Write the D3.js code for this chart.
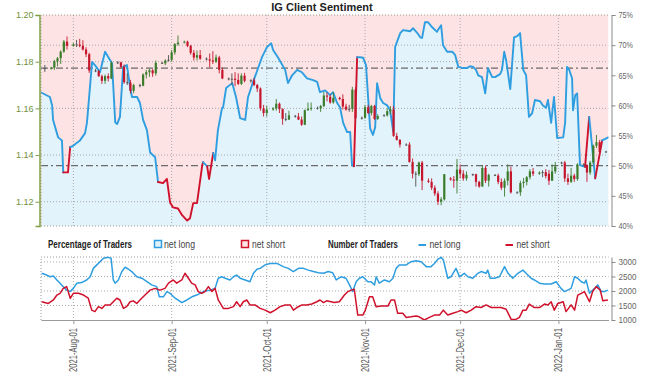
<!DOCTYPE html>
<html>
<head>
<meta charset="utf-8">
<script src="https://cdn.jsdelivr.net/npm/d3@7"></script>
<style>
body { margin: 0; background: #fff; }
svg { display: block; font-family: "Liberation Sans", Arial, sans-serif; }
</style>
</head>
<body>
<div id="chart"></div>
<script>
// EUR/USD daily candles: date, open, high, low, close
const candles = [
  ["2021-07-23",1.1772,1.1786,1.1756,1.1770],["2021-07-25",1.1770,1.1778,1.1766,1.1774],
  ["2021-07-26",1.1774,1.1808,1.1765,1.1802],["2021-07-27",1.1802,1.1820,1.1780,1.1815],
  ["2021-07-28",1.1815,1.1848,1.1790,1.1843],["2021-07-29",1.1843,1.1893,1.1838,1.1886],
  ["2021-07-30",1.1886,1.1908,1.1852,1.1868],["2021-08-01",1.1868,1.1880,1.1864,1.1874],
  ["2021-08-02",1.1874,1.1893,1.1863,1.1873],["2021-08-03",1.1873,1.1898,1.1862,1.1868],
  ["2021-08-04",1.1868,1.1892,1.1848,1.1852],["2021-08-05",1.1852,1.1862,1.1820,1.1832],
  ["2021-08-06",1.1832,1.1838,1.1752,1.1762],["2021-08-08",1.1762,1.1770,1.1755,1.1760],
  ["2021-08-09",1.1760,1.1765,1.1735,1.1738],["2021-08-10",1.1738,1.1745,1.1705,1.1718],
  ["2021-08-11",1.1718,1.1745,1.1705,1.1738],["2021-08-12",1.1738,1.1750,1.1715,1.1728],
  ["2021-08-13",1.1728,1.1802,1.1725,1.1795],["2021-08-15",1.1795,1.1802,1.1790,1.1797],
  ["2021-08-16",1.1797,1.1800,1.1772,1.1778],["2021-08-17",1.1778,1.1788,1.1705,1.1712],
  ["2021-08-18",1.1712,1.1750,1.1700,1.1710],["2021-08-19",1.1710,1.1722,1.1664,1.1675],
  ["2021-08-20",1.1675,1.1705,1.1665,1.1700],["2021-08-22",1.1700,1.1705,1.1690,1.1697],
  ["2021-08-23",1.1697,1.1750,1.1695,1.1745],["2021-08-24",1.1745,1.1765,1.1728,1.1755],
  ["2021-08-25",1.1755,1.1770,1.1735,1.1763],["2021-08-26",1.1763,1.1768,1.1735,1.1750],
  ["2021-08-27",1.1750,1.1805,1.1740,1.1795],["2021-08-29",1.1795,1.1800,1.1790,1.1793],
  ["2021-08-30",1.1793,1.1810,1.1785,1.1805],["2021-08-31",1.1805,1.1828,1.1800,1.1808],
  ["2021-09-01",1.1808,1.1850,1.1800,1.1840],["2021-09-02",1.1840,1.1880,1.1830,1.1875],
  ["2021-09-03",1.1875,1.1912,1.1868,1.1882],["2021-09-05",1.1882,1.1890,1.1878,1.1886],
  ["2021-09-06",1.1886,1.1890,1.1862,1.1868],["2021-09-07",1.1868,1.1872,1.1830,1.1838],
  ["2021-09-08",1.1838,1.1850,1.1805,1.1818],["2021-09-09",1.1818,1.1848,1.1805,1.1828],
  ["2021-09-10",1.1828,1.1850,1.1808,1.1813],["2021-09-12",1.1813,1.1818,1.1805,1.1810],
  ["2021-09-13",1.1810,1.1835,1.1775,1.1805],["2021-09-14",1.1805,1.1845,1.1790,1.1800],
  ["2021-09-15",1.1800,1.1830,1.1795,1.1818],["2021-09-16",1.1818,1.1825,1.1750,1.1765],
  ["2021-09-17",1.1765,1.1775,1.1725,1.1728],["2021-09-19",1.1728,1.1732,1.1720,1.1725],
  ["2021-09-20",1.1725,1.1750,1.1700,1.1727],["2021-09-21",1.1727,1.1755,1.1695,1.1722],
  ["2021-09-22",1.1722,1.1750,1.1700,1.1705],["2021-09-23",1.1705,1.1750,1.1700,1.1740],
  ["2021-09-24",1.1740,1.1752,1.1712,1.1718],["2021-09-26",1.1718,1.1725,1.1710,1.1720],
  ["2021-09-27",1.1720,1.1730,1.1695,1.1700],["2021-09-28",1.1700,1.1705,1.1670,1.1685],
  ["2021-09-29",1.1685,1.1690,1.1590,1.1600],["2021-09-30",1.1600,1.1615,1.1565,1.1580],
  ["2021-10-01",1.1580,1.1610,1.1565,1.1595],["2021-10-03",1.1595,1.1605,1.1590,1.1600],
  ["2021-10-04",1.1600,1.1640,1.1590,1.1620],["2021-10-05",1.1620,1.1625,1.1580,1.1597],
  ["2021-10-06",1.1597,1.1600,1.1530,1.1555],["2021-10-07",1.1555,1.1580,1.1545,1.1552],
  ["2021-10-08",1.1552,1.1590,1.1550,1.1570],["2021-10-10",1.1568,1.1572,1.1560,1.1565],
  ["2021-10-11",1.1565,1.1580,1.1550,1.1552],["2021-10-12",1.1552,1.1565,1.1525,1.1530],
  ["2021-10-13",1.1530,1.1595,1.1528,1.1592],["2021-10-14",1.1592,1.1625,1.1590,1.1598],
  ["2021-10-15",1.1598,1.1625,1.1590,1.1602],["2021-10-17",1.1602,1.1608,1.1595,1.1600],
  ["2021-10-18",1.1600,1.1615,1.1585,1.1610],["2021-10-19",1.1610,1.1670,1.1605,1.1655],
  ["2021-10-20",1.1655,1.1668,1.1630,1.1650],["2021-10-21",1.1650,1.1660,1.1620,1.1625],
  ["2021-10-22",1.1625,1.1670,1.1620,1.1645],["2021-10-24",1.1645,1.1650,1.1635,1.1640],
  ["2021-10-25",1.1640,1.1660,1.1595,1.1608],["2021-10-26",1.1608,1.1620,1.1590,1.1595],
  ["2021-10-27",1.1595,1.1615,1.1585,1.1598],["2021-10-28",1.1598,1.1692,1.1585,1.1680],
  ["2021-10-29",1.1680,1.1690,1.1535,1.1558],["2021-10-31",1.1558,1.1565,1.1552,1.1560],
  ["2021-11-01",1.1560,1.1615,1.1555,1.1605],["2021-11-02",1.1605,1.1615,1.1575,1.1580],
  ["2021-11-03",1.1580,1.1615,1.1570,1.1610],["2021-11-04",1.1610,1.1615,1.1550,1.1555],
  ["2021-11-05",1.1555,1.1575,1.1550,1.1567],["2021-11-07",1.1567,1.1575,1.1565,1.1570],
  ["2021-11-08",1.1570,1.1600,1.1565,1.1588],["2021-11-09",1.1588,1.1610,1.1575,1.1595],
  ["2021-11-10",1.1595,1.1610,1.1478,1.1482],["2021-11-11",1.1482,1.1495,1.1462,1.1465],
  ["2021-11-12",1.1465,1.1468,1.1432,1.1445],["2021-11-14",1.1445,1.1450,1.1440,1.1445],
  ["2021-11-15",1.1445,1.1455,1.1368,1.1370],["2021-11-16",1.1370,1.1385,1.1300,1.1320],
  ["2021-11-17",1.1320,1.1330,1.1265,1.1318],["2021-11-18",1.1318,1.1372,1.1310,1.1368],
  ["2021-11-19",1.1368,1.1375,1.1250,1.1290],["2021-11-21",1.1290,1.1300,1.1280,1.1285],
  ["2021-11-22",1.1285,1.1300,1.1250,1.1260],["2021-11-23",1.1260,1.1270,1.1225,1.1235],
  ["2021-11-24",1.1235,1.1245,1.1186,1.1200],["2021-11-25",1.1200,1.1220,1.1185,1.1210],
  ["2021-11-26",1.1210,1.1318,1.1205,1.1318],["2021-11-28",1.1300,1.1306,1.1290,1.1295],
  ["2021-11-29",1.1295,1.1310,1.1260,1.1290],["2021-11-30",1.1290,1.1383,1.1235,1.1338],
  ["2021-12-01",1.1338,1.1360,1.1300,1.1320],["2021-12-02",1.1320,1.1335,1.1290,1.1300],
  ["2021-12-03",1.1300,1.1330,1.1290,1.1315],["2021-12-05",1.1315,1.1320,1.1310,1.1318],
  ["2021-12-06",1.1318,1.1320,1.1265,1.1285],["2021-12-07",1.1285,1.1290,1.1260,1.1265],
  ["2021-12-08",1.1265,1.1355,1.1265,1.1345],["2021-12-09",1.1345,1.1355,1.1280,1.1290],
  ["2021-12-10",1.1290,1.1320,1.1265,1.1315],["2021-12-12",1.1315,1.1318,1.1310,1.1312],
  ["2021-12-13",1.1312,1.1320,1.1275,1.1285],["2021-12-14",1.1285,1.1300,1.1250,1.1260],
  ["2021-12-15",1.1260,1.1300,1.1222,1.1290],["2021-12-16",1.1290,1.1360,1.1270,1.1330],
  ["2021-12-17",1.1330,1.1350,1.1235,1.1240],["2021-12-19",1.1240,1.1245,1.1235,1.1240],
  ["2021-12-20",1.1240,1.1290,1.1225,1.1280],["2021-12-21",1.1280,1.1302,1.1260,1.1285],
  ["2021-12-22",1.1285,1.1310,1.1270,1.1305],["2021-12-23",1.1305,1.1340,1.1295,1.1330],
  ["2021-12-24",1.1330,1.1345,1.1310,1.1320],["2021-12-26",1.1320,1.1330,1.1315,1.1325],
  ["2021-12-27",1.1325,1.1335,1.1305,1.1327],["2021-12-28",1.1327,1.1340,1.1300,1.1310],
  ["2021-12-29",1.1320,1.1336,1.1272,1.1290],["2021-12-30",1.1290,1.1360,1.1290,1.1330],
  ["2021-12-31",1.1330,1.1370,1.1320,1.1350],["2022-01-02",1.1365,1.1372,1.1360,1.1368],
  ["2022-01-03",1.1368,1.1375,1.1285,1.1300],["2022-01-04",1.1300,1.1320,1.1272,1.1285],
  ["2022-01-05",1.1285,1.1345,1.1280,1.1312],["2022-01-06",1.1312,1.1320,1.1285,1.1297],
  ["2022-01-07",1.1297,1.1365,1.1290,1.1360],["2022-01-09",1.1360,1.1365,1.1355,1.1358],
  ["2022-01-10",1.1358,1.1360,1.1285,1.1325],["2022-01-11",1.1325,1.1375,1.1315,1.1368],
  ["2022-01-12",1.1368,1.1445,1.1360,1.1440],["2022-01-13",1.1440,1.1486,1.1430,1.1455],
  ["2022-01-14",1.1455,1.1465,1.1400,1.1413],["2022-01-16",1.1413,1.1418,1.1410,1.1415]
];

// sentiment samples: [days since 2021-07-22, value]
const netLongPct = [
  [0.0,62.1],[2.6,61.4],[3.3,60.0],[3.6,57.6],[5.2,54.7],[6.4,54.2],[6.8,48.9],[8.3,48.9],
  [9.0,53.1],[9.6,53.2],[12.1,54.2],[13.7,55.4],[14.3,57.2],[15.9,67.2],[16.8,66.7],[18.4,65.5],
  [20.0,68.9],[21.6,67.5],[22.2,67.0],[23.2,57.2],[23.8,56.9],[24.7,58.1],[25.7,66.4],[26.9,66.7],
  [27.9,63.0],[28.5,61.4],[30.1,61.4],[31.0,60.4],[32.0,57.6],[33.2,55.9],[34.2,52.2],[35.8,51.4],
  [36.7,47.3],[38.3,47.1],[39.5,47.8],[40.5,43.9],[41.4,43.1],[43.0,42.9],[44.3,41.8],[45.9,40.9],
  [46.8,41.3],[47.8,43.8],[49.0,43.8],[50.6,49.9],[50.9,50.6],[52.2,49.9],[52.8,47.8],[54.1,52.1],
  [54.7,50.9],[55.6,55.9],[56.9,59.6],[57.2,59.6],[58.2,62.9],[60.1,63.7],[61.3,61.4],[62.6,57.9],
  [64.2,57.6],[65.1,61.4],[66.7,63.9],[69.5,68.0],[71.1,69.7],[72.4,70.3],[73.0,69.2],[74.6,67.9],
  [76.8,65.9],[77.7,63.7],[79.0,65.0],[80.6,65.9],[82.1,65.5],[83.7,64.5],[85.6,64.2],[86.9,63.9],
  [87.8,62.2],[89.4,62.5],[91.0,61.7],[91.9,62.2],[93.2,60.4],[94.1,59.7],[95.1,57.1],[96.3,55.6],
  [97.3,55.6],[97.9,50.1],[98.5,49.9],[99.5,68.0],[100.4,68.0],[101.4,67.9],[102.3,66.7],[103.6,56.2],
  [104.5,55.1],[105.2,56.4],[105.8,63.7],[106.8,61.2],[107.7,60.4],[109.0,60.0],[109.9,59.2],[110.9,55.6],
  [111.5,69.7],[113.1,72.0],[114.0,72.5],[116.2,72.3],[117.2,72.8],[118.5,72.0],[119.4,71.3],[120.0,71.2],
  [120.9,73.8],[121.9,73.8],[123.1,73.0],[124.7,72.2],[125.0,72.5],[126.0,73.3],[126.6,70.0],[127.9,68.9],
  [129.5,68.9],[130.4,68.4],[131.4,66.4],[132.9,66.2],[134.2,66.2],[135.1,66.5],[136.1,66.4],[137.0,65.9],
  [137.7,65.0],[138.9,64.7],[139.9,62.0],[140.8,66.2],[142.1,64.7],[143.0,64.7],[144.6,65.2],[145.2,65.9],
  [145.9,68.9],[146.5,67.5],[147.8,62.7],[149.0,71.3],[150.0,71.5],[150.9,72.0],[151.9,65.9],[152.8,65.0],
  [153.7,58.1],[154.7,58.7],[155.6,60.9],[157.2,60.7],[158.1,60.0],[159.1,59.6],[159.7,60.9],[160.7,57.1],
  [161.6,61.4],[162.6,54.6],[164.5,54.7],[165.1,57.1],[165.7,66.4],[166.4,65.9],[167.3,64.5],[167.6,59.2],
  [168.3,61.7],[168.9,62.0],[169.8,50.1],[171.4,49.8],[172.7,58.1],[174.6,47.9],[176.8,54.2],[178.7,54.7]
];

const netLongCount = [
  [0.0,2610],[1.6,2550],[2.6,2490],[3.7,2520],[4.8,2380],[5.8,2270],[6.8,2150],[7.9,2030],
  [9.0,1980],[10.0,2090],[11.1,2270],[12.6,2290],[14.2,2380],[15.3,2490],[16.3,2780],[17.4,2900],
  [18.4,3010],[19.5,3130],[21.0,3160],[21.9,3130],[22.6,2380],[23.2,2270],[24.2,2380],[25.3,2670],
  [26.3,2820],[27.4,2750],[28.4,2670],[30.0,2490],[31.6,2440],[33.2,2320],[34.7,2210],[36.3,2150],
  [37.1,1800],[38.4,1800],[39.5,1980],[40.5,1920],[42.1,1750],[44.2,1600],[45.8,1690],[47.4,1800],
  [48.9,1860],[51.0,1980],[53.1,2030],[54.7,2090],[55.7,2440],[56.8,2490],[57.9,2440],[59.4,2380],
  [60.5,2490],[61.5,2550],[62.6,2440],[64.2,2380],[65.7,2320],[66.8,2610],[67.9,2750],[68.9,2780],
  [70.5,2900],[72.1,2950],[74.2,2950],[76.2,2840],[77.8,2780],[79.4,2670],[81.0,2780],[82.6,2780],
  [84.1,2720],[85.7,2670],[87.3,2630],[88.9,2610],[90.4,2670],[91.8,2630],[92.9,2380],[94.4,2490],
  [96.0,2440],[97.1,2210],[98.1,1980],[99.2,2320],[100.2,2440],[101.3,2490],[102.9,2320],[103.9,2320],
  [105.0,2210],[105.5,2490],[106.5,2270],[108.1,2380],[109.7,2320],[110.8,2440],[111.8,2780],[112.8,2900],
  [115.0,2900],[116.5,3010],[118.1,3040],[119.7,3010],[121.3,2840],[122.8,2840],[123.9,2950],[124.9,3090],
  [126.0,3160],[126.7,3070],[128.1,2440],[129.1,2490],[130.7,2780],[131.8,2490],[133.3,2610],[134.4,2490],
  [136.0,2440],[137.6,2610],[138.6,2670],[140.2,2610],[140.7,2720],[141.5,2440],[142.8,2440],[144.4,2490],
  [146.0,2840],[147.1,2610],[148.6,2440],[150.2,2610],[151.8,2720],[152.8,2610],[154.4,2440],[155.4,2380],
  [157.0,2270],[158.6,2240],[160.7,2240],[162.3,2320],[163.8,2090],[164.9,1980],[167.0,2090],[168.1,2490],
  [169.1,2440],[170.2,2320],[171.2,2270],[171.7,2380],[172.8,1920],[174.4,2090],[175.4,2210],[176.5,1980],
  [177.5,1980],[178.6,2030]
];

const netShortCount = [
  [0.0,1630],[2.1,1570],[3.7,1690],[4.8,1860],[5.8,1920],[6.8,2090],[7.9,2150],[9.0,1750],
  [10.0,1920],[11.6,1920],[13.2,1860],[14.7,1750],[15.8,1340],[16.8,1290],[17.9,1460],[19.0,1400],
  [20.0,1520],[21.6,1520],[22.6,1630],[23.7,1750],[24.7,1690],[25.8,1400],[26.8,1460],[27.9,1630],
  [28.9,1660],[30.0,1570],[31.0,1690],[32.6,1860],[34.2,2030],[35.8,2090],[37.3,2030],[38.9,2090],
  [40.0,2270],[41.5,2380],[42.6,2270],[44.2,2380],[45.2,2610],[46.3,2440],[47.3,2270],[48.4,2210],
  [49.4,1980],[50.5,1920],[51.5,1980],[52.6,2150],[53.7,1980],[54.7,2090],[55.7,1690],[57.3,1400],
  [58.9,1400],[60.5,1460],[61.5,1630],[62.6,1460],[63.6,1630],[64.7,1690],[65.7,1520],[67.3,1520],
  [68.9,1400],[70.5,1340],[72.1,1250],[73.6,1340],[75.2,1460],[76.8,1520],[78.4,1520],[79.4,1340],
  [80.5,1430],[82.1,1520],[83.6,1520],[85.2,1550],[86.8,1630],[87.8,1690],[88.9,1600],[89.9,1660],
  [92.3,1600],[93.9,1630],[95.5,1860],[96.6,1980],[97.6,2030],[98.6,2060],[99.7,1170],[101.3,1170],
  [102.1,1340],[103.4,1800],[104.4,1800],[105.5,1460],[107.1,1480],[109.2,1480],[110.2,1690],[111.3,1690],
  [112.3,1230],[113.9,1230],[115.0,1090],[116.5,1110],[118.1,1140],[119.1,1110],[120.7,1000],[122.3,1090],
  [123.9,1170],[125.5,1170],[126.7,1340],[128.1,1170],[129.7,1230],[131.3,1290],[132.3,1340],[133.9,1250],
  [135.5,1340],[137.0,1460],[138.6,1430],[140.2,1520],[141.8,1430],[143.3,1430],[144.9,1430],[146.5,1370],
  [148.1,1020],[149.6,1020],[150.7,1090],[151.8,1340],[152.8,1340],[153.8,1550],[155.4,1430],[157.0,1430],
  [158.6,1550],[159.7,1520],[160.7,1630],[161.7,1340],[162.8,1570],[164.5,1630],[165.4,1290],[167.0,1520],
  [168.1,1340],[169.1,1860],[170.2,1920],[171.2,1980],[172.8,1630],[173.8,1980],[174.9,2150],[176.2,2030],
  [177.0,1660],[178.6,1690]
];

const monthTicks = ["2021-08-01","2021-09-01","2021-10-01","2021-11-01","2021-12-01","2022-01-01"];
const priceTicks = [1.12, 1.14, 1.16, 1.18, 1.20];
const pctTicks = [40, 45, 50, 55, 60, 65, 70, 75];
const countTicks = [1000, 1500, 2000, 2500, 3000];
const priceRef = 1.1772;   // dash-dot reference level

const W = 656, H = 388;
const parse = d3.timeParse("%Y-%m-%d");
const t0 = new Date(2021, 6, 22);
const dayToDate = d => new Date(t0.getTime() + d * 864e5);

const svg = d3.select("#chart").append("svg").attr("width", W).attr("height", H);

const x = d3.scaleTime()
  .domain([new Date(2021, 6, 21, 19), new Date(2022, 0, 16, 19)])
  .range([41, 608.5]);
const top1 = 15, bot1 = 226, top2 = 257, bot2 = 320;
const yPrice = d3.scaleLinear().domain([1.1096, 1.20]).range([bot1, top1]);
const yPct = d3.scaleLinear().domain([40, 75]).range([bot1, top1]);
const yCount = d3.scaleLinear().domain([1000, 3172]).range([bot2, top2]);

const blue = "#2e9ee0", red = "#d0112b";
const dotted = "1,2";

svg.append("defs").append("clipPath").attr("id", "clipTop")
  .append("rect").attr("x", 41).attr("y", top1).attr("width", 608.5 - 41).attr("height", bot1 - top1);

// ---- top panel background & sentiment area
const topG = svg.append("g").attr("clip-path", "url(#clipTop)");
topG.append("rect").attr("x", 41).attr("y", top1).attr("width", 567.5).attr("height", bot1 - top1)
  .attr("fill", "#fde3e4");
topG.append("path")
  .datum(netLongPct)
  .attr("fill", "#e3f3fc")
  .attr("d", d3.area().x(d => x(dayToDate(d[0]))).y0(bot1).y1(d => yPct(d[1])));

// grid
const monthDates = monthTicks.map(parse);
topG.selectAll(".vg").data(monthDates).join("line")
  .attr("x1", d => x(d)).attr("x2", d => x(d)).attr("y1", top1).attr("y2", bot1)
  .attr("stroke", "#a9a9a9").attr("stroke-dasharray", dotted);
topG.selectAll(".hg").data([1.12, 1.14, 1.16, 1.18]).join("line")
  .attr("x1", 41).attr("x2", 608.5).attr("y1", d => yPrice(d)).attr("y2", d => yPrice(d))
  .attr("stroke", "#a9a9a9").attr("stroke-dasharray", dotted);
topG.append("line").attr("x1", 41).attr("x2", 608.5).attr("y1", yPct(70)).attr("y2", yPct(70))
  .attr("stroke", "#a9a9a9").attr("stroke-dasharray", dotted);

// dash-dot reference lines
[yPrice(priceRef), yPct(50)].forEach(yy => {
  topG.append("line").attr("x1", 41).attr("x2", 608.5).attr("y1", yy).attr("y2", yy)
    .attr("stroke", "#6b6b6b").attr("stroke-width", 1.2).attr("stroke-dasharray", "7,3,2,3");
});

// sentiment line, red where net long below 50%
function drawRuns(g, pts, xf, yf, colorOf, width) {
  let run = [pts[0]], col = colorOf(pts[0]);
  const flush = () => {
    g.append("path").datum(run).attr("fill", "none").attr("stroke", col)
      .attr("stroke-width", width).attr("stroke-linejoin", "round").attr("stroke-linecap", "round")
      .attr("d", d3.line().x(xf).y(yf));
  };
  for (let i = 1; i < pts.length; i++) {
    run.push(pts[i]);
    const c = colorOf(pts[i]);
    if (c !== col || i === pts.length - 1) {
      flush();
      run = [pts[i]];
      col = c;
    }
  }
}
drawRuns(topG, netLongPct, d => x(dayToDate(d[0])), d => yPct(d[1]), d => d[1] < 50 ? red : blue, 1.9);

// candles
const cg = topG.append("g");
candles.forEach(c => {
  const [ds, o, h, l, cl] = c;
  const cx = x(parse(ds));
  const col = Math.abs(cl - o) < 0.0003 ? "#505050" : (cl > o ? "#3c7d2c" : "#c5162c");
  cg.append("line").attr("x1", cx).attr("x2", cx).attr("y1", yPrice(h)).attr("y2", yPrice(l))
    .attr("stroke", col).attr("stroke-width", 0.9);
  const y0 = yPrice(Math.max(o, cl)), y1 = yPrice(Math.min(o, cl));
  cg.append("rect").attr("x", cx - 1.1).attr("width", 2.2)
    .attr("y", y0).attr("height", Math.max(0.9, y1 - y0)).attr("fill", col);
});

// top panel border (dotted)
svg.append("path").attr("d", `M41,${bot1}V${top1}H608.5M41,${bot1}H608.5`)
  .attr("fill", "none").attr("stroke", "#9a9a8a").attr("stroke-dasharray", dotted);

// axes top panel
const leftAxis = svg.append("g").attr("transform", "translate(39.5,0)")
  .call(d3.axisLeft(yPrice).tickValues(priceTicks).tickFormat(d3.format(".2f")).tickSize(4).tickSizeOuter(4));
leftAxis.select(".domain").attr("stroke", "#7f9f45").attr("stroke-width", 1.5);
leftAxis.selectAll(".tick line").attr("stroke", "#7f9f45");
leftAxis.selectAll("text").attr("fill", "#6e8f3c").style("font-size", "9px").attr("x", -6);

const rightAxis = svg.append("g").attr("transform", "translate(611.5,0)")
  .call(d3.axisRight(yPct).tickValues(pctTicks).tickFormat(d => d + "%").tickSize(4).tickSizeOuter(4));
rightAxis.select(".domain").attr("stroke", "#8a8a8a");
rightAxis.selectAll(".tick line").attr("stroke", "#8a8a8a");
rightAxis.selectAll("text").attr("fill", "#666").style("font-size", "8.5px")
  .attr("textLength", 14.5).attr("lengthAdjust", "spacingAndGlyphs");

// title
svg.append("text").attr("x", 322).attr("y", 11).attr("text-anchor", "middle")
  .style("font-size", "11px").style("font-weight", "bold").attr("fill", "#222")
  .text("IG Client Sentiment");

// ---- legend
const lg = svg.append("g");
function legendText(xx, txt, len, bold) {
  lg.append("text").attr("x", xx).attr("y", 248)
    .style("font-size", "10px").style("font-weight", bold ? "bold" : "normal")
    .attr("fill", bold ? "#222" : "#444")
    .attr("textLength", len).attr("lengthAdjust", "spacingAndGlyphs")
    .text(txt);
}
legendText(48, "Percentage of Traders", 84, true);
lg.append("rect").attr("x", 154.5).attr("y", 240.5).attr("width", 7).attr("height", 7)
  .attr("fill", "#e3f3fc").attr("stroke", blue).attr("stroke-width", 1.5);
legendText(164, "net long", 31, false);
lg.append("rect").attr("x", 241.5).attr("y", 240.5).attr("width", 7).attr("height", 7)
  .attr("fill", "#fde3e4").attr("stroke", red).attr("stroke-width", 1.5);
legendText(252, "net short", 33, false);
legendText(328, "Number of Traders", 70, true);
lg.append("line").attr("x1", 418.5).attr("x2", 426).attr("y1", 245).attr("y2", 245)
  .attr("stroke", blue).attr("stroke-width", 2);
legendText(429.5, "net long", 31, false);
lg.append("line").attr("x1", 505.5).attr("x2", 513).attr("y1", 245).attr("y2", 245)
  .attr("stroke", red).attr("stroke-width", 2);
legendText(516.5, "net short", 33, false);

// ---- lower panel
const lowG = svg.append("g");
lowG.selectAll(".vg2").data(monthDates).join("line")
  .attr("x1", d => x(d)).attr("x2", d => x(d)).attr("y1", top2).attr("y2", bot2)
  .attr("stroke", "#a9a9a9").attr("stroke-dasharray", dotted);
lowG.selectAll(".hg2").data([1500, 2000, 2500, 3000]).join("line")
  .attr("x1", 41).attr("x2", 608.5).attr("y1", d => yCount(d)).attr("y2", d => yCount(d))
  .attr("stroke", "#a9a9a9").attr("stroke-dasharray", dotted);
lowG.append("path").attr("d", `M41,${bot2}V${top2}H608.5`)
  .attr("fill", "none").attr("stroke", "#9a9a9a").attr("stroke-dasharray", dotted);

const cLine = d3.line().x(d => x(dayToDate(d[0]))).y(d => yCount(d[1]));
lowG.append("path").datum(netLongCount).attr("fill", "none").attr("stroke", blue)
  .attr("stroke-width", 1.5).attr("stroke-linejoin", "round").attr("d", cLine);
lowG.append("path").datum(netShortCount).attr("fill", "none").attr("stroke", red)
  .attr("stroke-width", 1.5).attr("stroke-linejoin", "round").attr("d", cLine);

const rightAxis2 = svg.append("g").attr("transform", "translate(611.5,0)")
  .call(d3.axisRight(yCount).tickValues(countTicks).tickFormat(d3.format("d")).tickSize(4).tickSizeOuter(0));
rightAxis2.select(".domain").attr("stroke", "#8a8a8a");
rightAxis2.selectAll(".tick line").attr("stroke", "#8a8a8a");
rightAxis2.selectAll("text").attr("fill", "#666").style("font-size", "8.5px")
  .attr("textLength", 18).attr("lengthAdjust", "spacingAndGlyphs");

const bottomAxis = svg.append("g").attr("transform", `translate(0,${bot2})`)
  .call(d3.axisBottom(x).tickValues(monthDates).tickFormat(d3.timeFormat("%Y-%b-%d")).tickSize(4).tickSizeOuter(0));
bottomAxis.select(".domain").attr("stroke", "#9a9a9a");
bottomAxis.selectAll(".tick line").attr("stroke", "#9a9a9a");
bottomAxis.selectAll("text")
  .style("font-size", "10px").attr("fill", "#555")
  .attr("textLength", 44).attr("lengthAdjust", "spacingAndGlyphs")
  .attr("transform", "rotate(-90)").attr("x", -8).attr("y", 0).attr("dy", "0.35em")
  .style("text-anchor", "end");
</script>
</body>
</html>
